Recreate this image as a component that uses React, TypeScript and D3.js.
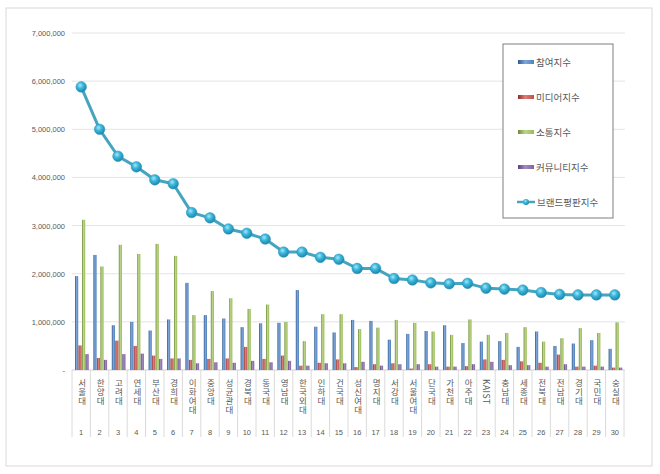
import React from "react";
import * as d3 from "d3";

const universities = [
  "서울대", "한양대", "고려대", "연세대", "부산대", "경희대", "이화여대", "중앙대", "성균관대", "경북대",
  "동국대", "영남대", "한국외대", "인하대", "건국대", "성신여대", "명지대", "서강대", "서울여대", "단국대",
  "가천대", "아주대", "KAIST", "충남대", "세종대", "전북대", "전남대", "경기대", "국민대", "숭실대",
];

const participation = [
  1950000, 2390000, 930000, 1000000, 820000, 1050000, 1810000, 1140000, 1070000, 890000,
  970000, 980000, 1660000, 900000, 780000, 1040000, 1020000, 630000, 750000, 810000,
  930000, 560000, 590000, 600000, 480000, 800000, 500000, 550000, 620000, 440000,
];
const media = [
  510000, 250000, 610000, 500000, 300000, 240000, 210000, 230000, 240000, 480000,
  230000, 300000, 90000, 150000, 220000, 60000, 120000, 140000, 30000, 120000,
  70000, 80000, 220000, 210000, 180000, 150000, 320000, 70000, 90000, 50000,
];
const communication = [
  3120000, 2150000, 2600000, 2410000, 2620000, 2370000, 1140000, 1640000, 1490000, 1270000,
  1360000, 1000000, 600000, 1160000, 1160000, 850000, 880000, 1040000, 980000, 800000,
  730000, 1050000, 730000, 770000, 890000, 590000, 660000, 870000, 770000, 990000,
];
const community = [
  330000, 210000, 330000, 340000, 230000, 240000, 140000, 160000, 150000, 190000,
  160000, 190000, 90000, 140000, 140000, 170000, 90000, 120000, 120000, 70000,
  70000, 120000, 170000, 100000, 100000, 70000, 120000, 70000, 70000, 50000,
];
const brandIndex = [
  5880000, 5000000, 4440000, 4220000, 3950000, 3870000, 3270000, 3160000, 2930000, 2840000,
  2720000, 2450000, 2450000, 2340000, 2300000, 2110000, 2110000, 1900000, 1870000, 1810000,
  1790000, 1800000, 1700000, 1680000, 1660000, 1610000, 1570000, 1560000, 1560000, 1560000,
];

const barSeries = [
  { name: "참여지수", values: participation, color: "#4f81bd", light: "#7ea6d8", dark: "#2f5a8f" },
  { name: "미디어지수", values: media, color: "#c0504d", light: "#dc7d7a", dark: "#8c2e2c" },
  { name: "소통지수", values: communication, color: "#9bbb59", light: "#bcd68a", dark: "#6f8a35" },
  { name: "커뮤니티지수", values: community, color: "#8064a2", light: "#a48cc2", dark: "#5a4178" },
];
const lineName = "브랜드평판지수";
const yTicks = [0, 1000000, 2000000, 3000000, 4000000, 5000000, 6000000, 7000000];

const W = 660;
const H = 474;
const plot = { left: 72, right: 624, top: 33, bottom: 370 };
const textColor = "#595959";
const fontKR = "'Noto Sans CJK KR', 'Noto Sans', sans-serif";

export default function App() {
  const ranks = universities.map((_, i) => i);

  const x0 = d3.scaleBand<number>().domain(ranks).range([plot.left, plot.right]).padding(0);
  const x1 = d3.scaleBand<number>().domain([0, 1, 2, 3]).range([3, 17]).padding(0);
  const y = d3.scaleLinear().domain([0, 7000000]).range([plot.bottom, plot.top]);

  const cx = (i: number) => (x0(i) ?? 0) + x0.bandwidth() / 2;
  const line = d3.line<number>().x((_, i) => cx(i)).y((d) => y(d));
  const fmt = d3.format(",");

  const legendY = [62, 97, 132, 167, 202];

  return (
    <svg width={W} height={H} style={{ position: "absolute", left: 0, top: 0, background: "#fff" }}>
      <defs>
        {barSeries.map((s, k) => (
          <linearGradient key={k} id={`bar${k}`} x1="0" x2="1" y1="0" y2="0">
            <stop offset="0%" stopColor={s.dark} />
            <stop offset="45%" stopColor={s.light} />
            <stop offset="100%" stopColor={s.color} />
          </linearGradient>
        ))}
        <radialGradient id="dot" cx="40%" cy="35%" r="65%">
          <stop offset="0%" stopColor="#a8e6f7" />
          <stop offset="45%" stopColor="#38b6dc" />
          <stop offset="100%" stopColor="#1f86a8" />
        </radialGradient>
      </defs>

      {/* chart frame */}
      <rect x={6} y={8} width={646} height={458} fill="#fff" stroke="#d9d9d9" strokeWidth={1} />

      {/* gridlines and y labels */}
      {yTicks.map((t) => (
        <g key={t}>
          <line x1={plot.left} x2={plot.right + 1} y1={y(t)} y2={y(t)} stroke={t === 0 ? "#d0d0d0" : "#e4e4e4"} strokeWidth={1} />
          <text x={65} y={y(t) + 3} textAnchor="end" fontSize={7.5} fill={textColor} fontFamily="'Liberation Sans', Arial, sans-serif">
            {t === 0 ? "-" : fmt(t)}
          </text>
        </g>
      ))}

      {/* category separators */}
      {ranks.concat([universities.length]).map((i) => {
        const xx = i === universities.length ? plot.right : (x0(i) ?? 0);
        return <line key={i} x1={xx} x2={xx} y1={plot.bottom} y2={437} stroke="#dadada" strokeWidth={1} />;
      })}

      {/* bars */}
      {barSeries.map((s, k) => (
        <g key={s.name}>
          {s.values.map((v, i) => (
            <rect
              key={i}
              x={(x0(i) ?? 0) + (x1(k) ?? 0)}
              y={y(v)}
              width={x1.bandwidth() - 0.3}
              height={plot.bottom - y(v)}
              fill={`url(#bar${k})`}
            />
          ))}
        </g>
      ))}

      {/* brand index line */}
      <path d={line(brandIndex) ?? ""} fill="none" stroke="#45a5bf" strokeWidth={3} strokeLinejoin="round" />
      {brandIndex.map((v, i) => (
        <circle key={i} cx={cx(i)} cy={y(v)} r={5.3} fill="url(#dot)" stroke="#2a95b8" strokeWidth={0.5} />
      ))}

      {/* category labels, written vertically */}
      {universities.map((name, i) => (
        <text
          key={i}
          x={cx(i) + 1}
          y={379}
          fontSize={8.5}
          fill={textColor}
          fontFamily={fontKR}
          letterSpacing={0.5}
          style={{ writingMode: "vertical-rl", textOrientation: name === "KAIST" ? "mixed" : "upright" }}
        >
          {name}
        </text>
      ))}
      {universities.map((_, i) => (
        <text key={i} x={cx(i)} y={435} textAnchor="middle" fontSize={7.5} fill={textColor} fontFamily="'Liberation Sans', Arial, sans-serif">
          {i + 1}
        </text>
      ))}

      {/* legend */}
      <rect x={503} y={44} width={110} height={174} fill="#fff" stroke="#7f7f7f" strokeWidth={1} />
      {barSeries.map((s, k) => (
        <g key={s.name}>
          <rect x={518} y={legendY[k] - 2} width={16} height={4} fill={`url(#bar${k})`} />
          <text x={536} y={legendY[k] + 3.5} fontSize={9.5} fill={textColor} fontFamily={fontKR}>
            {s.name}
          </text>
        </g>
      ))}
      <line x1={517} x2={535} y1={legendY[4]} y2={legendY[4]} stroke="#45a5bf" strokeWidth={2.5} />
      <circle cx={526} cy={legendY[4]} r={3} fill="url(#dot)" />
      <text x={537} y={legendY[4] + 3.5} fontSize={9.5} fill={textColor} fontFamily={fontKR}>
        {lineName}
      </text>
    </svg>
  );
}
